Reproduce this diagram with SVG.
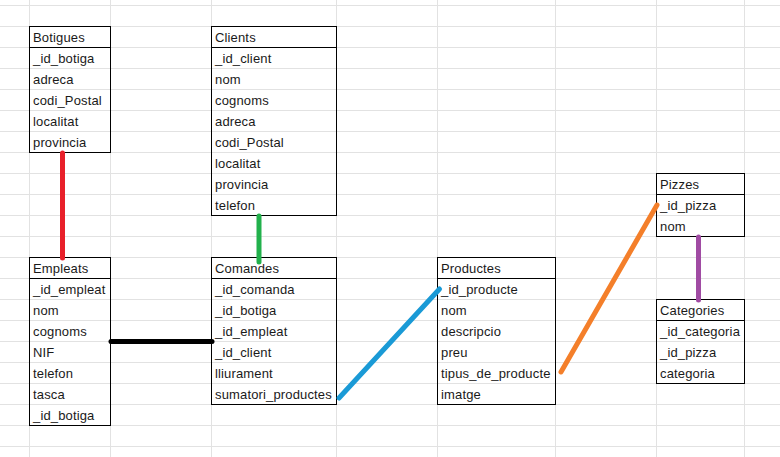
<svg xmlns="http://www.w3.org/2000/svg" width="780" height="457" viewBox="0 0 780 457">
<style>
.grid{stroke:#e2e2e2;stroke-width:1;fill:none}
.tb{fill:none;stroke:#000;stroke-width:1}
text{font-family:"Liberation Sans",Arial,sans-serif;font-size:13px;fill:#1a1a1a;letter-spacing:0.15px}
.c{fill:none;stroke-width:5;stroke-linecap:round}
</style>
<rect width="780" height="457" fill="#fff"/>
<path class="grid" d="M0 5.5H780M0 26.5H780M0 47.5H780M0 68.5H780M0 89.5H780M0 110.5H780M0 131.5H780M0 152.5H780M0 173.5H780M0 194.5H780M0 215.5H780M0 236.5H780M0 257.5H780M0 278.5H780M0 299.5H780M0 320.5H780M0 341.5H780M0 362.5H780M0 383.5H780M0 404.5H780M0 425.5H780M0 446.5H780M29.5 0V457M110.5 0V457M211.5 0V457M336.5 0V457M437.5 0V457M555.5 0V457M656.5 0V457M744.5 0V457"/>
<g id="botigues">
<rect class="tb" x="29.5" y="26.5" width="81" height="126"/>
<path class="tb" d="M29.5 47.5H110.5"/>
<text x="33" y="42">Botigues</text>
<text x="33" y="63">_id_botiga</text>
<text x="33" y="84">adreca</text>
<text x="33" y="105">codi_Postal</text>
<text x="33" y="126">localitat</text>
<text x="33" y="147">provincia</text>
</g>
<g id="clients">
<rect class="tb" x="211.5" y="26.5" width="125" height="189"/>
<path class="tb" d="M211.5 47.5H336.5"/>
<text x="215" y="42">Clients</text>
<text x="215" y="63">_id_client</text>
<text x="215" y="84">nom</text>
<text x="215" y="105">cognoms</text>
<text x="215" y="126">adreca</text>
<text x="215" y="147">codi_Postal</text>
<text x="215" y="168">localitat</text>
<text x="215" y="189">provincia</text>
<text x="215" y="210">telefon</text>
</g>
<g id="empleats">
<rect class="tb" x="29.5" y="257.5" width="81" height="168"/>
<path class="tb" d="M29.5 278.5H110.5"/>
<text x="33" y="273">Empleats</text>
<text x="33" y="294">_id_empleat</text>
<text x="33" y="315">nom</text>
<text x="33" y="336">cognoms</text>
<text x="33" y="357">NIF</text>
<text x="33" y="378">telefon</text>
<text x="33" y="399">tasca</text>
<text x="33" y="420">_id_botiga</text>
</g>
<g id="comandes">
<rect class="tb" x="211.5" y="257.5" width="125" height="147"/>
<path class="tb" d="M211.5 278.5H336.5"/>
<text x="215" y="273">Comandes</text>
<text x="215" y="294">_id_comanda</text>
<text x="215" y="315">_id_botiga</text>
<text x="215" y="336">_id_empleat</text>
<text x="215" y="357">_id_client</text>
<text x="215" y="378">lliurament</text>
<text x="215" y="399">sumatori_productes</text>
</g>
<g id="productes">
<rect class="tb" x="437.5" y="257.5" width="118" height="147"/>
<path class="tb" d="M437.5 278.5H555.5"/>
<text x="441" y="273">Productes</text>
<text x="441" y="294">_id_producte</text>
<text x="441" y="315">nom</text>
<text x="441" y="336">descripcio</text>
<text x="441" y="357">preu</text>
<text x="441" y="378">tipus_de_producte</text>
<text x="441" y="399">imatge</text>
</g>
<g id="pizzes">
<rect class="tb" x="656.5" y="173.5" width="88" height="63"/>
<path class="tb" d="M656.5 194.5H744.5"/>
<text x="660" y="189">Pizzes</text>
<text x="660" y="210">_id_pizza</text>
<text x="660" y="231">nom</text>
</g>
<g id="categories">
<rect class="tb" x="656.5" y="299.5" width="88" height="84"/>
<path class="tb" d="M656.5 320.5H744.5"/>
<text x="660" y="315">Categories</text>
<text x="660" y="336">_id_categoria</text>
<text x="660" y="357">_id_pizza</text>
<text x="660" y="378">categoria</text>
</g>
<g id="connectors">
<path class="c" stroke="#e8202a" d="M62.5 153V258"/>
<path class="c" stroke="#22b14c" d="M259 216V262"/>
<path class="c" stroke="#000" stroke-linecap="butt" d="M111 341.5H212"/>
<path class="c" stroke="#1a9ad6" d="M339 398L439.5 289"/>
<path class="c" stroke="#f47f2a" d="M561 372L657 205"/>
<path class="c" stroke="#a04ba3" d="M698.5 237V300"/>
</g>
</svg>
